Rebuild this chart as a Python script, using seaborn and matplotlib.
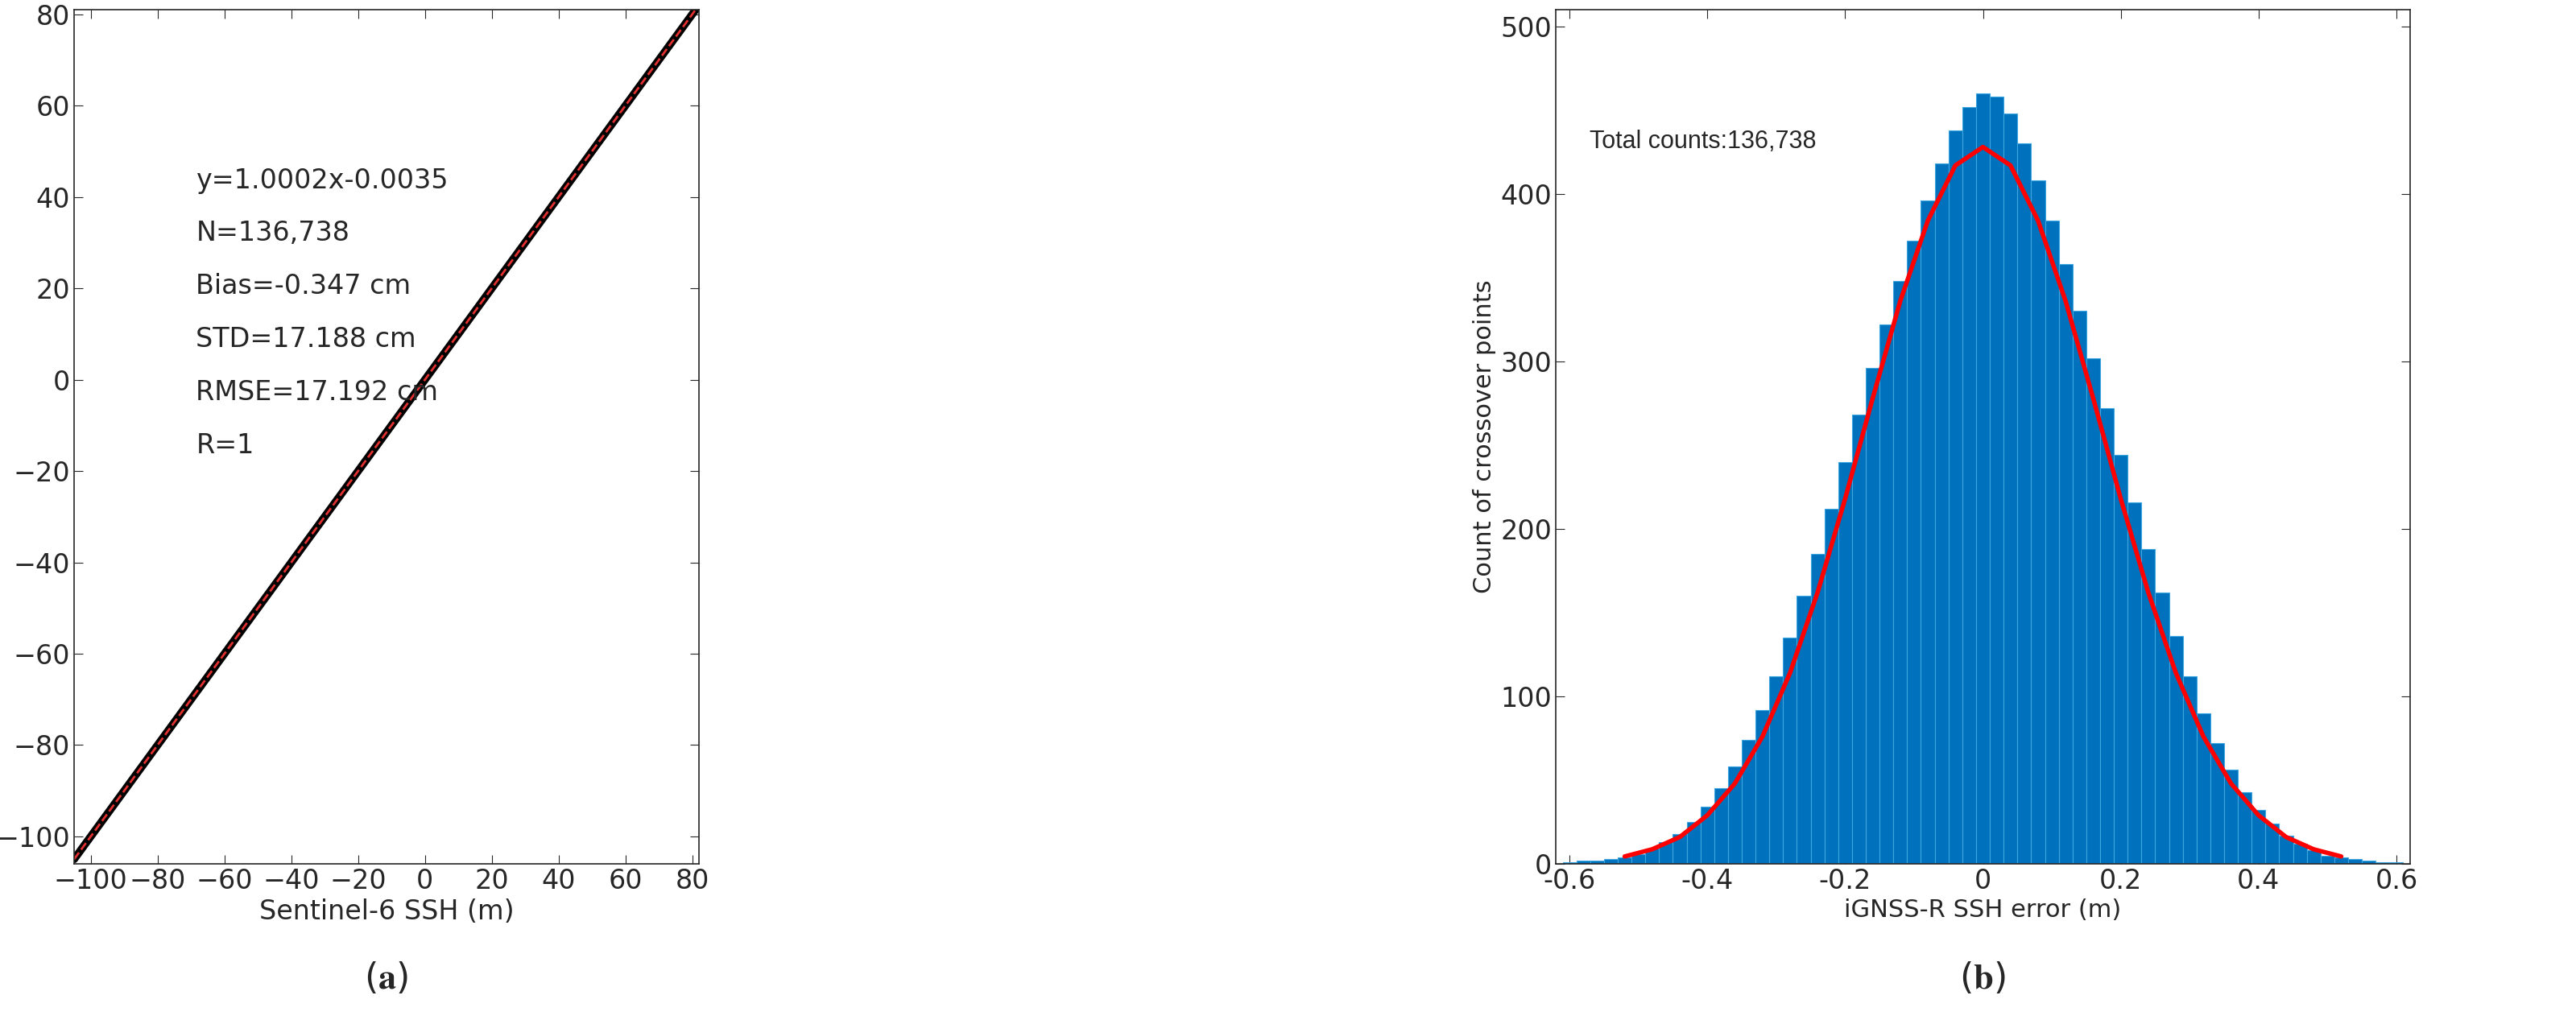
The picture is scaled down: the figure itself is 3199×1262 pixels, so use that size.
import numpy as np
import pandas as pd
import seaborn as sns
import matplotlib
matplotlib.use("Agg")
import matplotlib.pyplot as plt

# panel (a): matched SSH points along the 1:1 line
ssh_sentinel = [-105, -100, -90, -80, -70, -60, -50, -40, -30, -20, -10, 0, 10, 20, 30, 40, 50, 60, 70, 80, 81]
ssh_ignss = [-105, -100, -90, -80, -70, -60, -50, -40, -30, -20, -10, 0, 10, 20, 30, 40, 50, 60, 70, 80, 81]
stats_text = ["y=1.0002x-0.0035", "N=136,738", "Bias=-0.347 cm", "STD=17.188 cm", "RMSE=17.192 cm", "R=1"]

# panel (b): histogram of SSH errors
err_bins = [-0.60, -0.58, -0.56, -0.54, -0.52, -0.50, -0.48, -0.46, -0.44, -0.42, -0.40, -0.38, -0.36,
            -0.34, -0.32, -0.30, -0.28, -0.26, -0.24, -0.22, -0.20, -0.18, -0.16, -0.14, -0.12, -0.10,
            -0.08, -0.06, -0.04, -0.02, 0.00, 0.02, 0.04, 0.06, 0.08, 0.10, 0.12, 0.14, 0.16, 0.18, 0.20,
            0.22, 0.24, 0.26, 0.28, 0.30, 0.32, 0.34, 0.36, 0.38, 0.40, 0.42, 0.44, 0.46, 0.48, 0.50,
            0.52, 0.54, 0.56, 0.58, 0.60]
err_counts = [1, 2, 2, 3, 4, 6, 9, 13, 18, 25, 34, 45, 58, 74, 92, 112, 135, 160, 185, 212, 240, 268,
              296, 322, 348, 372, 396, 418, 438, 452, 460, 458, 448, 430, 408, 384, 358, 330, 302, 272,
              244, 216, 188, 162, 136, 112, 90, 72, 56, 43, 32, 24, 17, 12, 8, 5, 4, 3, 2, 1, 1]
fit_x = [-0.52, -0.48, -0.44, -0.40, -0.36, -0.32, -0.28, -0.24, -0.20, -0.16, -0.12, -0.08, -0.04, 0.00,
         0.04, 0.08, 0.12, 0.16, 0.20, 0.24, 0.28, 0.32, 0.36, 0.40, 0.44, 0.48, 0.52]
fit_y = [4.4, 8.7, 16, 29, 48, 76, 114, 162, 218, 278, 336, 384, 417, 428,
         417, 384, 336, 278, 218, 162, 114, 76, 48, 29, 16, 8.7, 4.4]

plt.rcParams["font.family"] = "Liberation Serif"
plt.rcParams["mathtext.fontset"] = "stix"
sns.set_style("ticks")

fig = plt.figure(figsize=(31.99, 12.62), dpi=100)
W, H = 3199, 1262
ax1 = fig.add_axes([92 / W, 1 - 1073 / H, (868 - 92) / W, (1073 - 12) / H])
ax2 = fig.add_axes([1932 / W, 1 - 1073 / H, (2993 - 1932) / W, (1073 - 12) / H])

# (a)
df_a = pd.DataFrame({"x": ssh_sentinel, "y": ssh_ignss})
sns.lineplot(data=df_a, x="x", y="y", ax=ax1, color="black", linewidth=7)
sns.lineplot(data=df_a, x="x", y="y", ax=ax1, color="#e03030", linewidth=2, linestyle="--")
ax1.set_xlim(-105, 82)
ax1.set_ylim(-106, 81)
ax1.set_xticks(range(-100, 81, 20))
ax1.set_yticks(range(-100, 81, 20))
ax1.set_xlabel("Sentinel-6 SSH (m)", fontsize=24)
ax1.set_ylabel("iGNSS-R altimeter SSH (m)", fontsize=24)
for i, s in enumerate(stats_text):
    ax1.text(0.195, 0.80 - i * 0.062, s, transform=ax1.transAxes, fontsize=24, va="center")

# (b)
df_b = pd.DataFrame({"err": err_bins, "count": err_counts})
sns.histplot(data=df_b, x="err", weights="count", binwidth=0.02, binrange=(-0.61, 0.61), ax=ax2,
             color="#0072BD", edgecolor="#3da5e0", linewidth=0.8, alpha=1)
df_fit = pd.DataFrame({"x": fit_x, "y": fit_y})
sns.lineplot(data=df_fit, x="x", y="y", ax=ax2, color="red", linewidth=4)
ax2.set_xlim(-0.62, 0.62)
ax2.set_ylim(0, 510)
ax2.set_xticks([-0.6, -0.4, -0.2, 0, 0.2, 0.4, 0.6])
ax2.set_xticklabels(["-0.6", "-0.4", "-0.2", "0", "0.2", "0.4", "0.6"])
ax2.set_yticks(range(0, 501, 100))
ax2.set_xlabel("iGNSS-R SSH error (m)", fontsize=22)
ax2.set_ylabel("Count of crossover points", fontsize=22)
ax2.text(0.04, 0.845, "Total counts:136,738", transform=ax2.transAxes, fontsize=22,
         family="Liberation Sans", va="center")

for ax in (ax1, ax2):
    ax.tick_params(labelsize=24, direction="in", length=8, top=True, right=True)
    for sp in ax.spines.values():
        sp.set_visible(True)
        sp.set_linewidth(1.2)

fig.text(480 / W, 1 - 1215 / H, r"($\mathbf{a}$)", fontsize=32, ha="center", va="center")
fig.text(2462 / W, 1 - 1215 / H, r"($\mathbf{b}$)", fontsize=32, ha="center", va="center")

fig.savefig("out.png", dpi=100)
